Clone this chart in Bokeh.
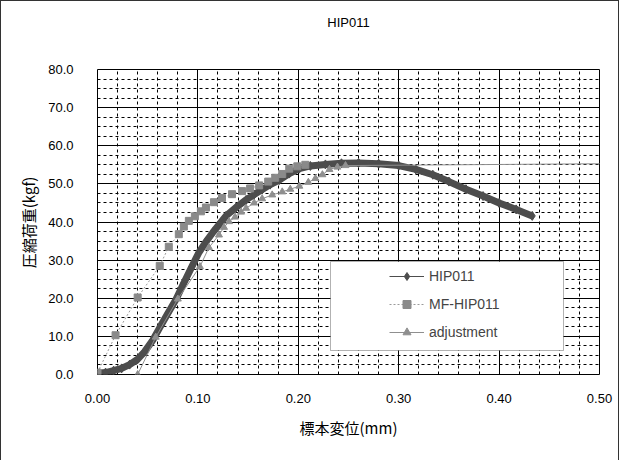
from bokeh.plotting import figure
from bokeh.models import (SingleIntervalTicker, PrintfTickFormatter, Range1d,
                          Legend, LegendItem, BoxAnnotation, Title)
from bokeh.embed import file_html
from bokeh.resources import INLINE

# ---- data ----
hip_x = [0.000, 0.008, 0.016, 0.024, 0.032, 0.040, 0.047, 0.055, 0.062, 0.070,
         0.078, 0.086, 0.094, 0.101, 0.108, 0.115, 0.122, 0.128, 0.138, 0.148,
         0.156, 0.164, 0.172, 0.181, 0.191, 0.201, 0.212, 0.227, 0.243, 0.260,
         0.280, 0.300, 0.317, 0.334, 0.350, 0.367, 0.384, 0.400, 0.417, 0.433]
hip_y = [0.3, 0.5, 1.0, 1.6, 2.6, 4.0, 6.0, 9.0, 12.3, 16.0,
         19.6, 24.0, 28.3, 32.0, 34.8, 37.3, 39.6, 41.6, 43.8, 45.8,
         47.2, 48.5, 49.8, 51.0, 52.7, 54.0, 54.7, 55.1, 55.4, 55.5,
         55.3, 54.8, 53.8, 52.4, 50.6, 48.6, 46.8, 45.0, 43.3, 41.6]

mf_x = [0.000, 0.018, 0.040, 0.062, 0.071, 0.081, 0.086, 0.091, 0.097, 0.103,
        0.108, 0.116, 0.124, 0.134, 0.144, 0.152, 0.161, 0.170, 0.177, 0.184,
        0.191, 0.199, 0.207]
mf_y = [0.5, 10.3, 20.2, 28.5, 33.5, 36.8, 38.8, 40.3, 41.5, 42.8,
        43.8, 45.2, 46.3, 47.3, 48.1, 48.8, 49.6, 50.6, 51.6, 52.6,
        54.0, 54.6, 55.0]

adj_x = [0.040, 0.058, 0.080, 0.102, 0.111, 0.121, 0.126, 0.131, 0.137, 0.143,
         0.148, 0.156, 0.164, 0.174, 0.184, 0.192, 0.201, 0.210, 0.217, 0.224,
         0.231, 0.239, 0.247, 0.510]
adj_y = [0.0, 9.8, 19.8, 28.3, 33.3, 36.6, 38.6, 40.1, 41.3, 42.6,
         43.6, 45.0, 46.1, 47.1, 47.9, 48.6, 49.4, 50.4, 51.4, 52.4,
         53.8, 54.4, 54.8, 55.3]

title_text = "HIP011"
x_label = "標本変位(mm)"
y_label = "圧縮荷重(kgf)"
series_names = ["HIP011", "MF-HIP011", "adjustment"]

FONT = "Liberation Sans"
CJK = "Noto Sans CJK JP"

p = figure(width=619, height=460, output_backend="svg", toolbar_location=None,
           x_range=Range1d(0, 0.5), y_range=Range1d(0, 80),
           min_border_left=96, min_border_right=21, min_border_top=68,
           min_border_bottom=87)
p.styles = {"border-left": "1px solid #333", "border-top": "1px solid #333",
            "border-right": "1px solid #333"}

# spacer panel next to the frame, then the title above it
p.add_layout(Title(text=" ", text_font_size="2px", standoff=36), "above")
p.add_layout(Title(text=title_text, align="center", standoff=0,
                   text_font=FONT, text_font_size="13px",
                   text_font_style="normal", text_color="black"), "above")

p.outline_line_color = "black"
p.outline_line_width = 1

p.xaxis.ticker = SingleIntervalTicker(interval=0.1, num_minor_ticks=5)
p.yaxis.ticker = SingleIntervalTicker(interval=10, num_minor_ticks=4)
p.xaxis.formatter = PrintfTickFormatter(format="%.2f")
p.yaxis.formatter = PrintfTickFormatter(format="%.1f")

for ax in (p.xaxis, p.yaxis):
    ax.axis_line_color = None
    ax.major_tick_line_color = None
    ax.minor_tick_line_color = None
    ax.major_label_text_font = FONT
    ax.major_label_text_font_size = "13px"
    ax.major_label_text_color = "black"
    ax.axis_label_text_font = CJK
    ax.axis_label_text_font_size = "15px"
    ax.axis_label_text_font_style = "normal"
    ax.axis_label_text_color = "black"

p.xaxis.axis_label = x_label
p.yaxis.axis_label = y_label
p.xaxis.major_label_standoff = 13
p.yaxis.major_label_standoff = 18
p.xaxis.axis_label_standoff = 11
p.yaxis.axis_label_standoff = 6

for g in (p.xgrid, p.ygrid):
    g.grid_line_color = "black"
    g.grid_line_width = 1
    g.minor_grid_line_color = "black"
    g.minor_grid_line_dash = "3 3"
    g.minor_grid_line_width = 1

# HIP011: dense dark band
p.line(hip_x, hip_y, line_color="#4d4d4d", line_width=7)
hip_thin = p.line(hip_x, hip_y, line_color="#4d4d4d", line_width=1)
hip_pts = p.scatter(hip_x, hip_y, marker="diamond", size=9,
                    fill_color="#4d4d4d", line_color="#4d4d4d")

# MF-HIP011
mf_line = p.line(mf_x, mf_y, line_color="#9a9a9a", line_width=1, line_dash="2 2")
mf_pts = p.scatter(mf_x, mf_y, marker="square", size=7,
                   fill_color="#8a8a8a", line_color="#8a8a8a")

# adjustment
adj_line = p.line(adj_x, adj_y, line_color="#8f8f8f", line_width=1)
adj_pts = p.scatter(adj_x[:-1], adj_y[:-1], marker="triangle", size=7,
                    fill_color="#8f8f8f", line_color="#8f8f8f")

box = BoxAnnotation(left=328, right=561, top=259, bottom=348,
                    left_units="canvas", right_units="canvas",
                    top_units="canvas", bottom_units="canvas",
                    fill_color="white", fill_alpha=1.0,
                    line_color="black", line_width=1)
p.add_layout(box)

legend = Legend(items=[
    LegendItem(label=series_names[0], renderers=[hip_thin, hip_pts]),
    LegendItem(label=series_names[1], renderers=[mf_line, mf_pts]),
    LegendItem(label=series_names[2], renderers=[adj_line, adj_pts]),
], location=(292, 32))
legend.padding = 0
legend.margin = 0
legend.spacing = 8
legend.glyph_width = 35
legend.glyph_height = 20
legend.label_height = 20
legend.label_standoff = 5
legend.label_text_font = FONT
legend.label_text_font_size = "14px"
legend.background_fill_alpha = 0
legend.border_line_color = None
p.add_layout(legend, "center")

open("out.html", "w").write(file_html(p, INLINE))
